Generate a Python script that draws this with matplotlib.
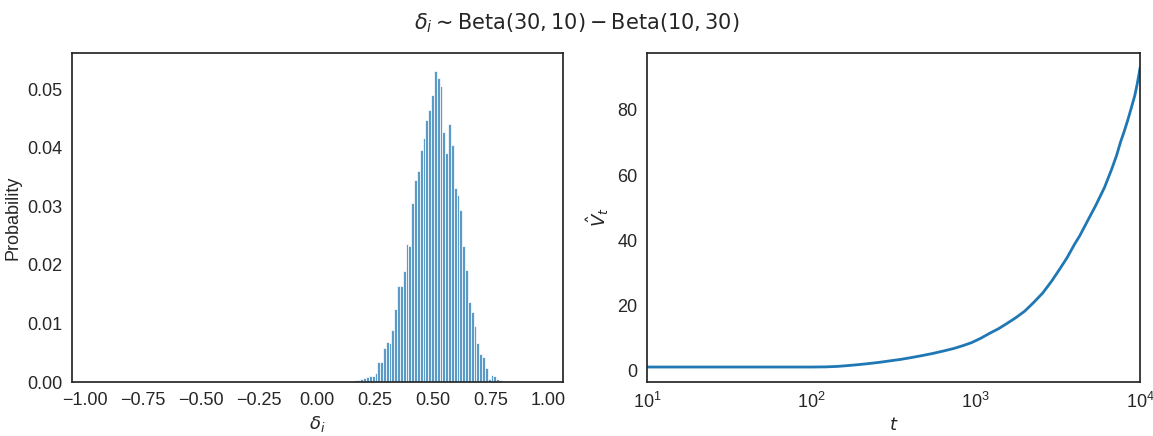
import numpy as np
import matplotlib
matplotlib.use("Agg")
import matplotlib.pyplot as plt

# ---------------- data ----------------
# histogram of delta_i (probability per bin)
bin_start = 0.163
bin_width = 0.01222
probs = [0.0003, 0.0003, 0.0005, 0.0007, 0.0009, 0.0010, 0.0010, 0.0015,
         0.0034, 0.0034, 0.0058, 0.0069, 0.0066, 0.0089, 0.0124, 0.0164,
         0.0164, 0.0190, 0.0236, 0.0232, 0.0305, 0.0345, 0.0360, 0.0397,
         0.0416, 0.0448, 0.0465, 0.0491, 0.0532, 0.0520, 0.0506, 0.0427,
         0.0391, 0.0441, 0.0405, 0.0331, 0.0319, 0.0293, 0.0232, 0.0192,
         0.0136, 0.0119, 0.0095, 0.0067, 0.0048, 0.0043, 0.0024, 0.0005,
         0.0012, 0.0010, 0.0005, 0.0003]

# V_hat_t curve
t_vals = [10, 20, 40, 70, 100, 123, 145, 166, 195, 223, 260, 301, 350, 405,
          470, 546, 640, 736, 840, 944, 1070, 1210, 1380, 1552, 1760, 1991,
          2250, 2554, 2900, 3276, 3600, 3993, 4295, 4864, 5372, 6083,
          6724, 7200, 7610, 8000, 8405, 8850, 9293, 9600, 9860, 10000]
v_vals = [1.0, 1.0, 1.0, 1.0, 1.0, 1.05, 1.2, 1.44, 1.75, 2.06, 2.45, 2.9,
          3.35, 3.9, 4.5, 5.15, 5.95, 6.7, 7.6, 8.5, 9.8, 11.3, 12.8, 14.4,
          16.2, 18.2, 20.8, 23.7, 27.4, 31.4, 34.6, 38.7, 41.3, 46.5, 50.6,
          56.2, 61.8, 66.0, 70.1, 73.3, 76.7, 80.6, 84.4, 87.8, 91.0, 92.8]

title = r"$\delta_i \sim \mathrm{Beta}(30, 10) - \mathrm{Beta}(10, 30)$"

# ---------------- style ----------------
plt.rcParams.update({
    "font.family": ["Liberation Sans", "DejaVu Sans"],
    "axes.edgecolor": ".15",
    "axes.linewidth": 1.25,
    "xtick.color": ".15",
    "ytick.color": ".15",
    "axes.labelcolor": ".15",
    "text.color": ".15",
    "xtick.labelsize": 13,
    "ytick.labelsize": 13,
    "axes.labelsize": 13,
    "axes.unicode_minus": True,
})

fig = plt.figure(figsize=(11.53, 4.36), dpi=100)
W, H = 1153, 436
ax1 = fig.add_axes([72 / W, (H - 382) / H, 491 / W, 329 / H])
ax2 = fig.add_axes([647 / W, (H - 382) / H, 493 / W, 329 / H])

fmt2 = matplotlib.ticker.FuncFormatter(
    lambda v, p: ("%.2f" % v).replace("-", "\u2212"))

# histogram
n = len(probs)
lefts = bin_start + bin_width * np.arange(n)
ax1.bar(lefts, probs, width=bin_width, align="edge",
        color="#1f77b4", alpha=0.75, edgecolor="white", linewidth=0.75)
ax1.set_xlim(-1.057, 1.062)
ax1.set_ylim(0, 0.0562)
ax1.set_xticks([-1.0, -0.75, -0.5, -0.25, 0.0, 0.25, 0.5, 0.75, 1.0])
ax1.set_yticks([0.0, 0.01, 0.02, 0.03, 0.04, 0.05])
ax1.xaxis.set_major_formatter(fmt2)
ax1.yaxis.set_major_formatter(fmt2)
ax1.set_xlabel(r"$\delta_i$")
ax1.set_ylabel("Probability")

# curve
ax2.plot(t_vals, v_vals, color="#1f77b4", linewidth=2)
ax2.set_xscale("log")
ax2.set_xlim(10, 10000)
ax2.set_ylim(-3.6, 97.5)
ax2.set_yticks([0, 20, 40, 60, 80])
ax2.xaxis.set_minor_locator(matplotlib.ticker.NullLocator())
ax2.set_xlabel(r"$t$")
ax2.set_ylabel(r"$\hat{V}_t$")

for ax in (ax1, ax2):
    ax.tick_params(length=0, pad=7)
    for s in ax.spines.values():
        s.set_color(".15")

fig.suptitle(title, y=0.975, fontsize=15)

fig.savefig("out.png", dpi=100)
